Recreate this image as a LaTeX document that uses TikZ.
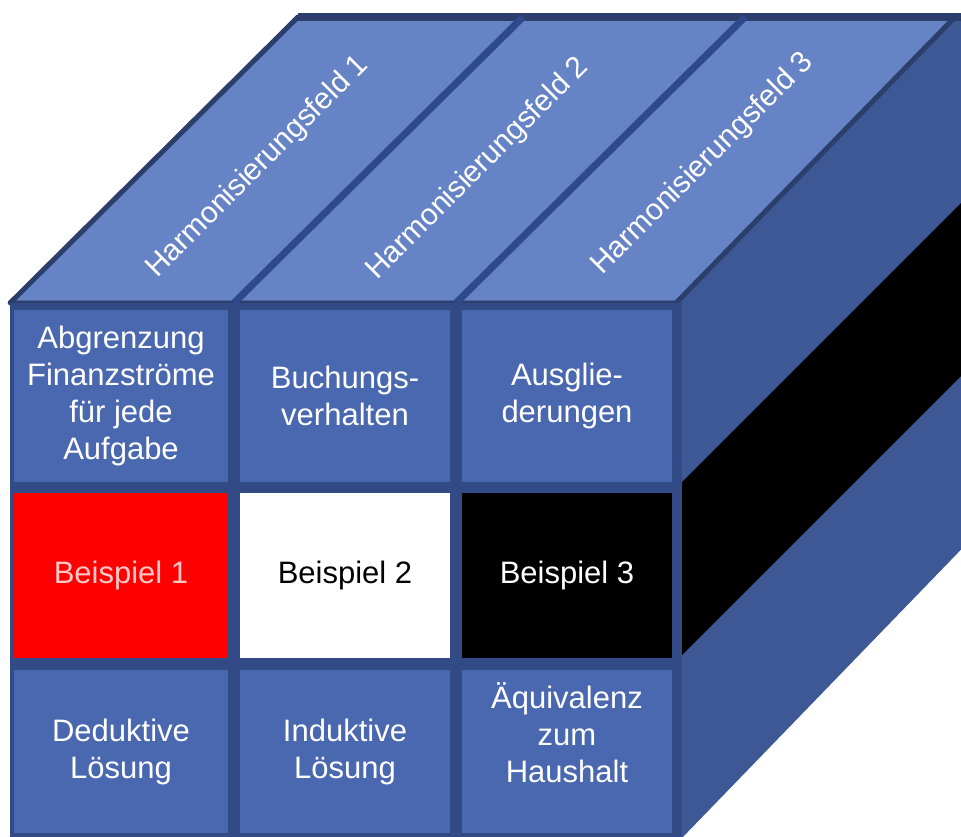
\documentclass[tikz,border=0pt]{standalone}
\usepackage{fontspec}
\setmainfont{Liberation Sans}
\definecolor{topblue}{HTML}{6583C5}
\definecolor{cellblue}{HTML}{4A68B0}
\definecolor{frameblue}{HTML}{324B87}
\definecolor{sideblue}{HTML}{3E5896}
\definecolor{edgeblue}{HTML}{2C3E6C}
\definecolor{divblue}{HTML}{2F4A8A}
\definecolor{pinktext}{HTML}{FFC8C8}
\tikzset{
  cell/.style={fill=cellblue, draw=none, inner sep=0pt, align=center, text=white,
    font=\fontsize{31}{37}\selectfont},
  toptext/.style={rotate=45, text=white, font=\fontsize{30}{36}\selectfont, inner sep=0pt},
  divider/.style={draw=divblue, line width=7pt},
}
\begin{document}
\begin{tikzpicture}[x=1pt,y=-1pt]
\useasboundingbox (0,0) rectangle (961,837);
\fill[white] (0,0) rectangle (961,837);
\begin{scope}
\clip (0,0) rectangle (961,837);
% right face
\fill[sideblue] (676,303) -- (955,17) -- (980,17) -- (980,530) -- (680,840) -- cycle;
\fill[black] (682,482) -- (980,184) -- (980,357) -- (682,655) -- cycle;
% top face
\filldraw[fill=topblue, draw=edgeblue, line width=5pt, line join=round] (10,303) -- (298,17) -- (955,17) -- (676,303) -- cycle;
\draw[edgeblue, line width=8pt] (298,17) -- (980,17);
\draw[divider] (234,303) -- (523,17);
\draw[divider] (456,303) -- (745,17);
% front face
\fill[frameblue] (10,303) rectangle (682,840);
\end{scope}
% cells
\node[cell, minimum width=214pt, minimum height=172pt] (c11) at (121,396) {Abgrenzung\\Finanzströme\\für jede\\Aufgabe};
\node[cell, minimum width=210pt, minimum height=172pt] (c12) at (345,396) {Buchungs-\\verhalten};
\node[cell, minimum width=210pt, minimum height=172pt] (c13) at (567,396) {Ausglie-\\derungen};
\node[cell, fill=red, text=pinktext, minimum width=214pt, minimum height=165pt] (c21) at (121,575.5) {Beispiel 1};
\node[cell, fill=white, text=black, minimum width=210pt, minimum height=165pt] (c22) at (345,575.5) {Beispiel 2};
\node[cell, fill=black, text=white, minimum width=210pt, minimum height=165pt] (c23) at (567,575.5) {Beispiel 3};
\node[cell, minimum width=214pt, minimum height=163pt] (c31) at (121,751.5) {Deduktive\\Lösung};
\node[cell, minimum width=210pt, minimum height=163pt] (c32) at (345,751.5) {Induktive\\Lösung};
\node[cell, minimum width=210pt, minimum height=163pt] (c33) at (567,751.5) {};
\node[cell, fill=none, yshift=19pt] (t33) at (c33.center) {Äquivalenz\\zum\\Haushalt};
% top labels
\node[toptext] (h1) at (258,167) {Harmonisierungsfeld 1};
\node[toptext] (h2) at (478,169) {Harmonisierungsfeld 2};
\node[toptext] (h3) at (703,164) {Harmonisierungsfeld 3};
\end{tikzpicture}
\end{document}
